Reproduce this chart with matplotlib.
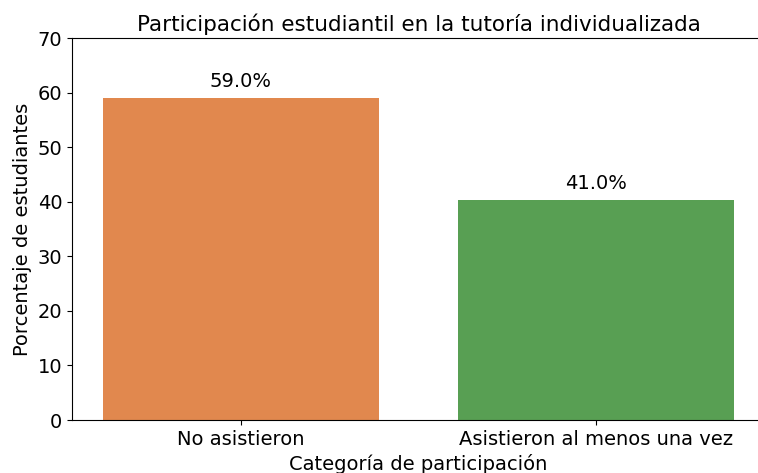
import matplotlib
matplotlib.use("Agg")
import matplotlib.pyplot as plt

categorias = ["No asistieron", "Asistieron al menos una vez"]
porcentajes = [59.0, 40.4]
etiquetas = ["59.0%", "41.0%"]
colores = ["#E1884E", "#589F53"]

fig = plt.figure(figsize=(7.58, 4.73), dpi=100)
ax = fig.add_axes([72 / 758, 53 / 473, 693 / 758, 382 / 473])

x = range(len(categorias))
bars = ax.bar(x, porcentajes, width=0.776, color=colores)
for b, txt in zip(bars, etiquetas):
    ax.annotate(txt, (b.get_x() + b.get_width() / 2, b.get_height()),
                xytext=(0, 5), textcoords="offset points",
                ha="center", va="bottom", fontsize=14)

ax.set_xlim(-0.475, 1.475)
ax.set_ylim(0, 70)
ax.set_xticks(list(x))
ax.set_xticklabels(categorias)
ax.tick_params(labelsize=14)
ax.spines["right"].set_visible(False)
ax.set_xlabel("Categoría de participación", fontsize=14)
ax.set_ylabel("Porcentaje de estudiantes", fontsize=14)
ax.set_title("Participación estudiantil en la tutoría individualizada", fontsize=15.5, pad=5)

fig.savefig("out.png", dpi=100)
